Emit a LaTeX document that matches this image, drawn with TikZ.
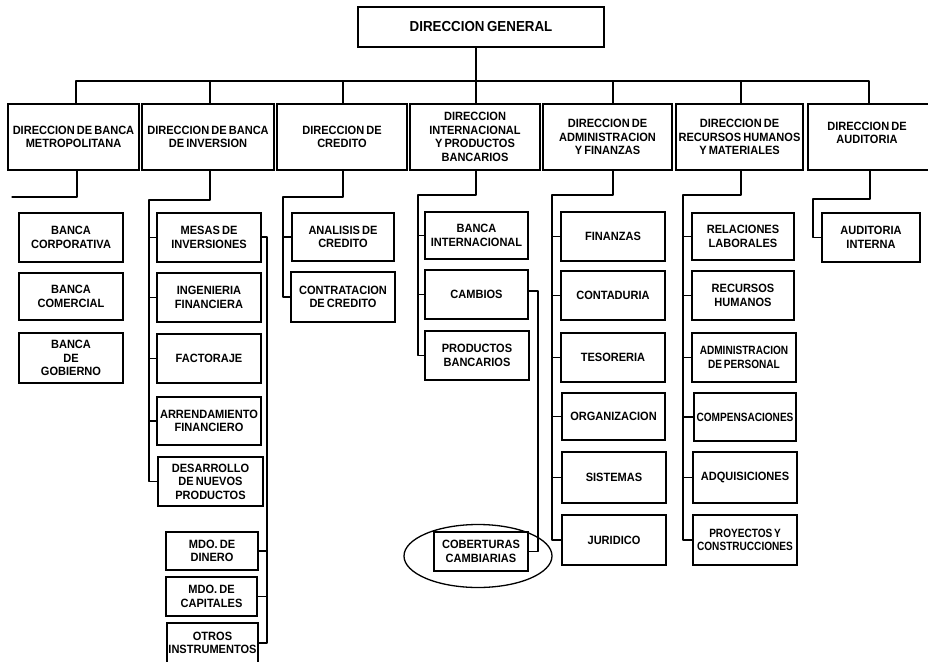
\documentclass[tikz,border=0pt]{standalone}
\usepackage{fontspec}
\setmainfont[WordSpace=0.7, FakeStretch=0.92]{Liberation Sans}
\newfontfamily\narrowf[WordSpace=0.6, FakeStretch=0.84]{Liberation Sans}
\usetikzlibrary{shapes.geometric}
\begin{document}
\begin{tikzpicture}[x=1pt,y=-1pt,
  bx/.style={draw, line width=1.3pt, inner sep=0pt, align=center,
    font=\bfseries\fontsize{12}{13.5}\selectfont},
  nbx/.style={bx, font=\narrowf\bfseries\fontsize{12}{13.5}\selectfont},
  top/.style={bx, font=\bfseries\fontsize{14.5}{16}\selectfont},
  ln/.style={line width=1.3pt, line cap=round, line join=round}]
\useasboundingbox (0,0) rectangle (928,661);
\clip (0,0) rectangle (928,661);

% top
\node[top, minimum width=246pt, minimum height=40pt] (gen) at (481,27) {DIRECCION GENERAL};

% level 1
\node[bx, minimum width=131pt, minimum height=66pt] (d1) at (73.5,137) {DIRECCION DE BANCA\\METROPOLITANA};
\node[bx, minimum width=132pt, minimum height=66pt] (d2) at (208,137) {DIRECCION DE BANCA\\DE INVERSION};
\node[bx, minimum width=130pt, minimum height=66pt] (d3) at (342,137) {DIRECCION DE\\CREDITO};
\node[bx, minimum width=130pt, minimum height=66pt] (d4) at (475,137) {DIRECCION\\INTERNACIONAL\\Y PRODUCTOS\\BANCARIOS};
\node[bx, minimum width=129pt, minimum height=66pt] (d5) at (607.5,137) {DIRECCION DE\\ADMINISTRACION\\Y FINANZAS};
\node[bx, minimum width=127pt, minimum height=66pt] (d6) at (739.5,137) {DIRECCION DE\\RECURSOS HUMANOS\\Y MATERIALES};
\node[bx, minimum width=126pt, minimum height=66pt] (d7) at (871,137) {};
\node[font=\bfseries\fontsize{12}{13.5}\selectfont, align=center, inner sep=0pt] (d7t) at (867,133) {DIRECCION DE\\AUDITORIA};

% bus
\coordinate (bus) at (476,81);
\draw[ln] ([xshift=-5pt]gen.south) -- ([xshift=-5pt]gen.south |- bus);
\draw[ln] ([xshift=2.5pt]d1.north) |- ([xshift=-2pt]d7.north |- bus) -- ([xshift=-2pt]d7.north);
\draw[ln] ([xshift=2pt]d2.north) -- ([xshift=2pt]d2.north |- bus);
\draw[ln] ([xshift=1pt]d3.north) -- ([xshift=1pt]d3.north |- bus);
\draw[ln] ([xshift=1pt]d4.north) -- ([xshift=1pt]d4.north |- bus);
\draw[ln] ([xshift=5.5pt]d5.north) -- ([xshift=5.5pt]d5.north |- bus);
\draw[ln] ([xshift=1.5pt]d6.north) -- ([xshift=1.5pt]d6.north |- bus);

% branch 1
\node[bx, minimum width=104pt, minimum height=49pt] (b1) at (71,237.5) {BANCA\\CORPORATIVA};
\node[bx, minimum width=104pt, minimum height=47pt] (b2) at (71,296.5) {BANCA\\COMERCIAL};
\node[bx, minimum width=104pt, minimum height=50pt] (b3) at (71,358) {BANCA\\DE\\GOBIERNO};
\coordinate (e1) at (12,197);
\draw[ln] ([xshift=3.5pt]d1.south) |- (e1);

% branch 2
\node[bx, minimum width=104pt, minimum height=49pt] (m1) at (209,237.5) {MESAS DE\\INVERSIONES};
\node[bx, minimum width=104pt, minimum height=49pt] (m2) at (209,297.5) {INGENIERIA\\FINANCIERA};
\node[bx, minimum width=104pt, minimum height=49pt] (m3) at (209,358.5) {FACTORAJE};
\node[bx, minimum width=104pt, minimum height=48pt] (m4) at (209,421) {ARRENDAMIENTO\\FINANCIERO};
\node[bx, minimum width=105pt, minimum height=49pt] (m5) at (210.5,481.5) {DESARROLLO\\DE NUEVOS\\PRODUCTOS};
\coordinate (j2) at (149,200);
\draw[ln] ([xshift=2pt]d2.south) |- (j2) |- (m5.west);
\foreach \c in {m1,m2,m3,m4} \draw[ln] (j2 |- \c.west) -- (\c.west);

\node[bx, minimum width=92pt, minimum height=38pt] (k1) at (212,551) {MDO. DE\\DINERO};
\node[bx, minimum width=91pt, minimum height=39pt] (k2) at (211.5,596.5) {MDO. DE\\CAPITALES};
\node[bx, minimum width=91pt, minimum height=40pt] (k3) at (212.5,643) {OTROS\\INSTRUMENTOS};
\coordinate (j2b) at (267,237);
\draw[ln] (m1.east |- j2b) -- (j2b) |- (k3.east);
\foreach \c in {k1,k2} \draw[ln] (j2b |- \c.east) -- (\c.east);

% branch 3
\node[bx, minimum width=102pt, minimum height=48pt] (a1) at (343,237) {ANALISIS DE\\CREDITO};
\node[bx, minimum width=104pt, minimum height=50pt] (a2) at (343,297) {CONTRATACION\\DE CREDITO};
\coordinate (j3) at (283,197);
\draw[ln] ([xshift=1pt]d3.south) |- (j3) |- (a2.west);
\draw[ln] (j3 |- a1.west) -- (a1.west);

% branch 4
\node[bx, minimum width=103pt, minimum height=47pt] (i1) at (476.5,235.5) {BANCA\\INTERNACIONAL};
\node[bx, minimum width=103pt, minimum height=49pt] (i2) at (476.5,294.5) {CAMBIOS};
\node[bx, minimum width=104pt, minimum height=49pt] (i3) at (477,355.5) {PRODUCTOS\\BANCARIOS};
\coordinate (j4) at (418,195);
\draw[ln] ([xshift=1pt]d4.south) |- (j4) |- (i3.west);
\foreach \c in {i1,i2} \draw[ln] (j4 |- \c.west) -- (\c.west);

\node[bx, minimum width=94pt, minimum height=39pt] (cb) at (481,551.5) {COBERTURAS\\CAMBIARIAS};
\node[draw, line width=1.3pt, ellipse, minimum width=148pt, minimum height=63pt, inner sep=0pt] (el) at (478,556) {};
\coordinate (j4b) at (538,291);
\draw[ln] (i2.east |- j4b) -- (j4b) |- (cb.east);

% branch 5
\node[bx, minimum width=104pt, minimum height=49pt] (f1) at (613,236.5) {FINANZAS};
\node[bx, minimum width=104pt, minimum height=49pt] (f2) at (613,295.5) {CONTADURIA};
\node[bx, minimum width=104pt, minimum height=49pt] (f3) at (613,357.5) {TESORERIA};
\node[bx, minimum width=103pt, minimum height=47pt] (f4) at (613.5,416.5) {ORGANIZACION};
\node[bx, minimum width=104pt, minimum height=51pt] (f5) at (614,477.5) {SISTEMAS};
\node[bx, minimum width=104pt, minimum height=50pt] (f6) at (614,540) {JURIDICO};
\coordinate (j5) at (552,195);
\draw[ln] ([xshift=5.5pt]d5.south) |- (j5) |- (f6.west);
\foreach \c in {f1,f2,f3,f4,f5} \draw[ln] (j5 |- \c.west) -- (\c.west);

% branch 6
\node[bx, minimum width=102pt, minimum height=47pt] (r1) at (743,236.5) {RELACIONES\\LABORALES};
\node[bx, minimum width=102pt, minimum height=49pt] (r2) at (743,295.5) {RECURSOS\\HUMANOS};
\node[nbx, minimum width=104pt, minimum height=49pt] (r3) at (744,357.5) {ADMINISTRACION\\DE PERSONAL};
\node[nbx, minimum width=102pt, minimum height=48pt] (r4) at (745,417) {COMPENSACIONES};
\node[bx, minimum width=104pt, minimum height=51pt] (r5) at (745,477.5) {ADQUISICIONES};
\node[nbx, minimum width=104pt, minimum height=50pt] (r6) at (745,540) {PROYECTOS Y\\CONSTRUCCIONES};
\coordinate (j6) at (683,195);
\draw[ln] ([xshift=1.5pt]d6.south) |- (j6) |- (r6.west);
\foreach \c in {r1,r2,r3,r4,r5} \draw[ln] (j6 |- \c.west) -- (\c.west);

% branch 7
\node[bx, minimum width=98pt, minimum height=49pt] (au) at (871,237.5) {AUDITORIA\\INTERNA};
\coordinate (j7) at (813,199);
\draw[ln] ([xshift=-1pt]d7.south) |- (j7) |- (au.west);
\end{tikzpicture}
\end{document}
